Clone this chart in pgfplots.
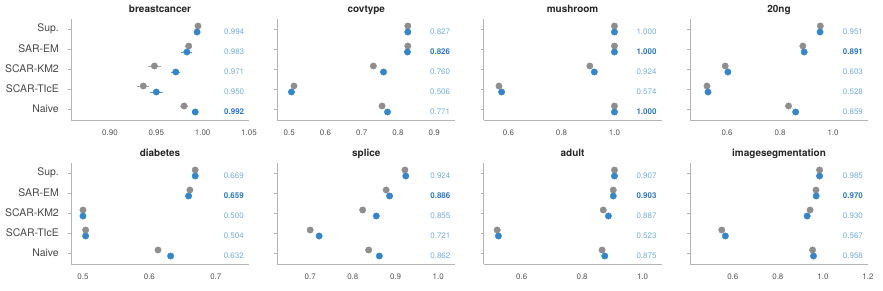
\documentclass[border=0pt]{standalone}
\usepackage{fontspec}
\setmainfont{TeX Gyre Heros}
\usepackage{pgfplots}
\pgfplotsset{compat=1.18}
\usepackage{pgfplotstable}
\definecolor{dotgray}{HTML}{8E8E8E}
\definecolor{dotblue}{HTML}{3586C8}
\definecolor{vallight}{HTML}{74AEDE}
\definecolor{valdark}{HTML}{2A78BE}
\definecolor{spine}{HTML}{B4B4B4}
\definecolor{ticklab}{HTML}{555555}

\pgfplotstableread{
p g ge b be
0 0.995 0.001 0.994 0.001
1 0.985 0.004 0.983 0.006
2 0.948 0.007 0.971 0.005
3 0.936 0.0065 0.950 0.007
4 0.980 0.004 0.992 0.002
}\tA
\pgfplotstableread{
p g ge b be
0 0.827 0.001 0.827 0.001
1 0.827 0.001 0.826 0.001
2 0.732 0.005 0.760 0.002
3 0.513 0.002 0.506 0.002
4 0.756 0.002 0.771 0.002
}\tB
\pgfplotstableread{
p g ge b be
0 1.000 0 1.000 0
1 1.000 0 1.000 0
2 0.907 0.002 0.924 0.002
3 0.564 0.002 0.574 0.002
4 1.000 0 1.000 0
}\tC
\pgfplotstableread{
p g ge b be
0 0.952 0.002 0.951 0.002
1 0.886 0.002 0.891 0.002
2 0.593 0.006 0.603 0.008
3 0.524 0.002 0.528 0.002
4 0.832 0.002 0.859 0.002
}\tD
\pgfplotstableread{
p g ge b be
0 0.669 0.001 0.669 0.001
1 0.661 0.001 0.659 0.001
2 0.500 0 0.500 0
3 0.504 0.001 0.504 0.001
4 0.613 0.001 0.632 0.001
}\tE
\pgfplotstableread{
p g ge b be
0 0.922 0.002 0.924 0.002
1 0.878 0.002 0.886 0.002
2 0.823 0.002 0.855 0.002
3 0.700 0.005 0.721 0.002
4 0.837 0.002 0.862 0.002
}\tF
\pgfplotstableread{
p g ge b be
0 0.907 0.001 0.907 0.001
1 0.903 0.001 0.903 0.001
2 0.870 0.002 0.887 0.002
3 0.519 0.001 0.523 0.001
4 0.866 0.001 0.875 0.001
}\tG
\pgfplotstableread{
p g ge b be
0 0.985 0.001 0.985 0.001
1 0.969 0.002 0.970 0.002
2 0.943 0.002 0.930 0.002
3 0.551 0.002 0.567 0.002
4 0.954 0.002 0.958 0.002
}\tH

\tikzset{
 vl/.style={font=\fontsize{8}{9}\selectfont, text=vallight, inner sep=0pt},
 vd/.style={font=\fontsize{8}{9}\selectfont\bfseries, text=valdark, inner sep=0pt},
}
\pgfplotsset{
 panel/.style={
  scale only axis, width=178bp, height=101bp,
  anchor=south west,
  axis x line*=bottom, axis y line*=left,
  axis line style={spine, line width=0.9bp},
  y dir=reverse, ymin=-0.5, ymax=4.55,
  ytick={0,1,2,3,4},
  yticklabels={},
  tick align=outside,
  major tick length=3bp,
  y tick style={spine, line width=0.9bp},
  x tick style={draw=none},
  xticklabel style={font=\fontsize{8}{9}\selectfont, text=ticklab, inner sep=0pt, yshift=-7bp},
  title style={font=\fontsize{10}{12}\selectfont\bfseries, text=black!85, inner sep=0pt, anchor=base, at={(0.5,1)}, yshift=0.5bp},
  clip=false,
 },
 firstcol/.style={
  yticklabels={Sup.,SAR-EM,SCAR-KM2,SCAR-TIcE,Naive},
  yticklabel style={font=\fontsize{10.5}{12}\selectfont, text=ticklab!85!black, inner sep=0pt, xshift=-9bp}},
 gdots/.style={only marks, mark=*, mark size=3.2bp, color=dotgray, mark options={draw=none, fill=dotgray},
   error bars/.cd, x dir=both, x explicit, error mark=none, error bar style={line width=0.8bp, dotgray!80}},
 bdots/.style={only marks, mark=*, mark size=3.2bp, color=dotblue, mark options={draw=none, fill=dotblue},
   error bars/.cd, x dir=both, x explicit, error mark=none, error bar style={line width=0.8bp, dotblue!85}},
}
\newcommand{\pairdots}[1]{%
  \addplot[gdots] table[x=g, y expr=\thisrow{p}-0.15, x error=ge] {#1};
  \addplot[bdots] table[x=b, y expr=\thisrow{p}+0.15, x error=be] {#1};
}

\begin{document}
\begin{tikzpicture}
\useasboundingbox (0,0) rectangle (883bp,291bp);

% Row 1
\begin{axis}[panel, firstcol, at={(71bp,171bp)}, title={breastcancer},
  xmin=0.858, xmax=1.05, xtick={0.90,0.95,1.00,1.05}, xticklabels={0.90,0.95,1.00,1.05}]
\pairdots{\tA}
\node[vl] at (axis cs:1.034,0.12) {0.994};
\node[vl] at (axis cs:1.034,1.12) {0.983};
\node[vl] at (axis cs:1.034,2.12) {0.971};
\node[vl] at (axis cs:1.034,3.12) {0.950};
\node[vd] at (axis cs:1.034,4.12) {0.992};
\end{axis}

\begin{axis}[panel, at={(277.3bp,171bp)}, title={covtype},
  xmin=0.467, xmax=0.958, xtick={0.5,0.6,0.7,0.8,0.9}, xticklabels={0.5,0.6,0.7,0.8,0.9}]
\pairdots{\tB}
\node[vl] at (axis cs:0.916,0.12) {0.827};
\node[vd] at (axis cs:0.916,1.12) {0.826};
\node[vl] at (axis cs:0.916,2.12) {0.760};
\node[vl] at (axis cs:0.916,3.12) {0.506};
\node[vl] at (axis cs:0.916,4.12) {0.771};
\end{axis}

\begin{axis}[panel, at={(483.6bp,171bp)}, title={mushroom},
  xmin=0.506, xmax=1.178, xtick={0.6,0.8,1.0}, xticklabels={0.6,0.8,1.0}]
\pairdots{\tC}
\node[vl] at (axis cs:1.121,0.12) {1.000};
\node[vd] at (axis cs:1.121,1.12) {1.000};
\node[vl] at (axis cs:1.121,2.12) {0.924};
\node[vl] at (axis cs:1.121,3.12) {0.574};
\node[vd] at (axis cs:1.121,4.12) {1.000};
\end{axis}

\begin{axis}[panel, at={(690bp,171bp)}, title={20ng},
  xmin=0.460, xmax=1.132, xtick={0.6,0.8,1.0}, xticklabels={0.6,0.8,1.0}]
\pairdots{\tD}
\node[vl] at (axis cs:1.075,0.12) {0.951};
\node[vd] at (axis cs:1.075,1.12) {0.891};
\node[vl] at (axis cs:1.075,2.12) {0.603};
\node[vl] at (axis cs:1.075,3.12) {0.528};
\node[vl] at (axis cs:1.075,4.12) {0.859};
\end{axis}

% Row 2
\begin{axis}[panel, firstcol, at={(71bp,27bp)}, title={diabetes},
  xmin=0.482, xmax=0.750, xtick={0.5,0.6,0.7}, xticklabels={0.5,0.6,0.7}]
\pairdots{\tE}
\node[vl] at (axis cs:0.727,0.12) {0.669};
\node[vd] at (axis cs:0.727,1.12) {0.659};
\node[vl] at (axis cs:0.727,2.12) {0.500};
\node[vl] at (axis cs:0.727,3.12) {0.504};
\node[vl] at (axis cs:0.727,4.12) {0.632};
\end{axis}

\begin{axis}[panel, at={(277.3bp,27bp)}, title={splice},
  xmin=0.623, xmax=1.040, xtick={0.7,0.8,0.9,1.0}, xticklabels={0.7,0.8,0.9,1.0}]
\pairdots{\tF}
\node[vl] at (axis cs:1.005,0.12) {0.924};
\node[vd] at (axis cs:1.005,1.12) {0.886};
\node[vl] at (axis cs:1.005,2.12) {0.855};
\node[vl] at (axis cs:1.005,3.12) {0.721};
\node[vl] at (axis cs:1.005,4.12) {0.862};
\end{axis}

\begin{axis}[panel, at={(483.6bp,27bp)}, title={adult},
  xmin=0.474, xmax=1.063, xtick={0.6,0.8,1.0}, xticklabels={0.6,0.8,1.0}]
\pairdots{\tG}
\node[vl] at (axis cs:1.013,0.12) {0.907};
\node[vd] at (axis cs:1.013,1.12) {0.903};
\node[vl] at (axis cs:1.013,2.12) {0.887};
\node[vl] at (axis cs:1.013,3.12) {0.523};
\node[vl] at (axis cs:1.013,4.12) {0.875};
\end{axis}

\begin{axis}[panel, at={(690bp,27bp)}, title={imagesegmentation},
  xmin=0.41, xmax=1.2, xtick={0.6,0.8,1.0,1.2}, xticklabels={0.6,0.8,1.0,1.2}]
\pairdots{\tH}
\node[vl] at (axis cs:1.133,0.12) {0.985};
\node[vd] at (axis cs:1.133,1.12) {0.970};
\node[vl] at (axis cs:1.133,2.12) {0.930};
\node[vl] at (axis cs:1.133,3.12) {0.567};
\node[vl] at (axis cs:1.133,4.12) {0.958};
\end{axis}
\end{tikzpicture}
\end{document}
